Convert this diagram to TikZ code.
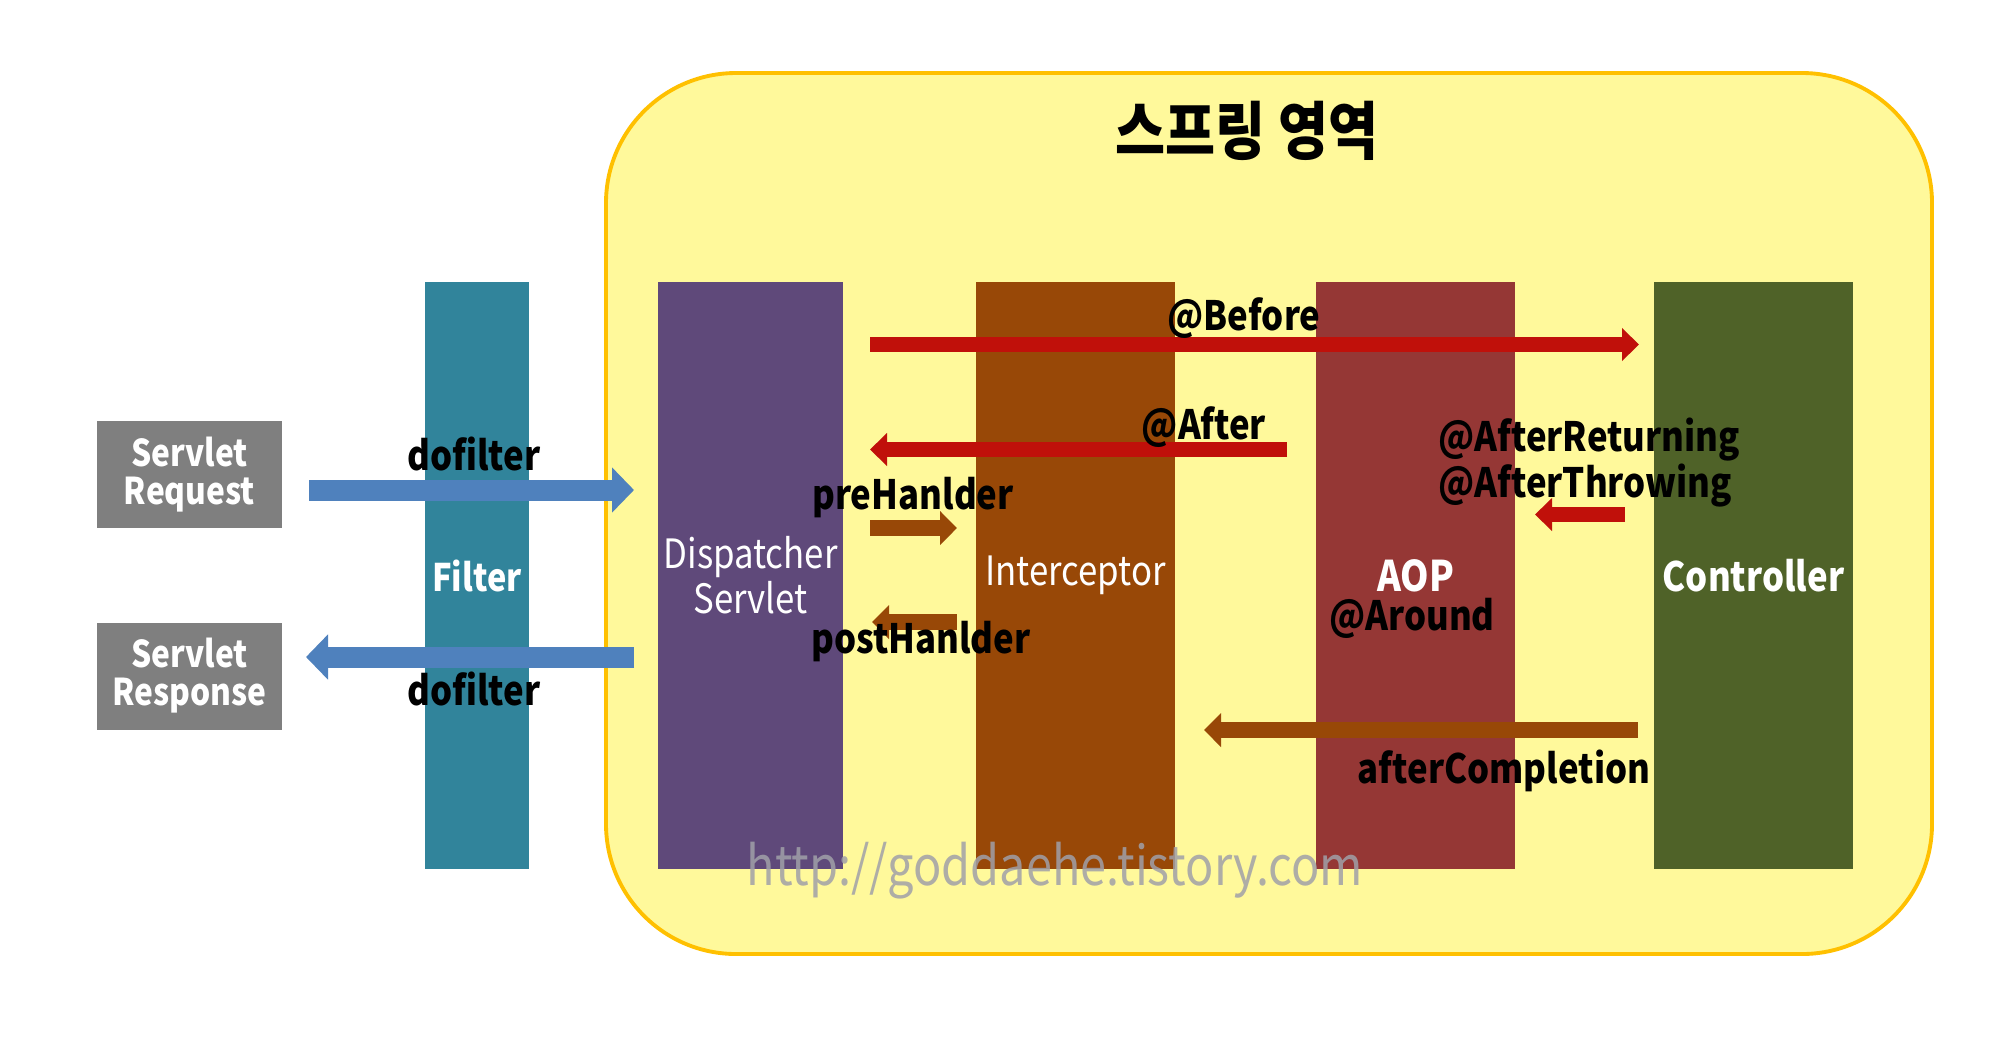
\documentclass[tikz,border=0pt]{standalone}
\usepackage{fontspec}
\setmainfont{Noto Sans CJK KR}[FakeStretch=0.86]
\usetikzlibrary{arrows.meta}
\definecolor{springfill}{HTML}{FFF99B}
\definecolor{springline}{HTML}{FFC000}
\definecolor{servletgray}{HTML}{7F7F7F}
\definecolor{filterteal}{HTML}{31849B}
\definecolor{disppurple}{HTML}{5F497A}
\definecolor{interbrown}{HTML}{984807}
\definecolor{aopred}{HTML}{953735}
\definecolor{ctrlgreen}{HTML}{4F6228}
\definecolor{flowblue}{HTML}{4F81BD}
\definecolor{advicered}{HTML}{C0100A}
\definecolor{wmgray}{HTML}{A0A0A8}
\tikzset{
  bar/.style={minimum width=1.99cm, minimum height=5.87cm, inner sep=0pt, text=white, align=center, font=\fontsize{11.5}{10.8}\selectfont},
  reqbox/.style={fill=servletgray, minimum width=1.85cm, minimum height=1.07cm, inner sep=0pt, align=center, text=white, font=\fontsize{10.5}{10.8}\selectfont\bfseries},
  flowarrow/.style={draw=flowblue, line width=0.21cm, -{Triangle[width=0.44cm,length=0.22cm]}},
  advice/.style={draw=advicered, line width=0.15cm, -{Triangle[width=0.32cm,length=0.17cm]}},
  handler/.style={draw=interbrown, line width=0.16cm, -{Triangle[width=0.33cm,length=0.17cm]}},
  lbl/.style={inner sep=0pt, font=\fontsize{11.5}{11}\selectfont\bfseries}
}

\begin{document}
\begin{tikzpicture}
\useasboundingbox (0,0) rectangle (20,-10.58);
\node[fill=springfill, draw=springline, line width=1.1pt, rounded corners=1.3cm, minimum width=13.26cm, minimum height=8.81cm] (spring) at (12.69,-5.135) {};
\node[font=\fontsize{18}{20}\selectfont\bfseries] (title) at (12.47,-1.31) {스프링 영역};

\node[reqbox] (req) at (1.895,-4.745) {Servlet\\Request};
\node[reqbox] (resp) at (1.895,-6.76) {Servlet\\Response};

\node[bar, fill=filterteal, minimum width=1.04cm, font=\fontsize{10.8}{11}\selectfont\bfseries] (filter) at (4.77,-5.755) {Filter};
\node[bar, fill=disppurple, minimum width=1.85cm] (disp) at (7.505,-5.755) {Dispatcher\\Servlet};
\node[bar, fill=interbrown] (inter) at (10.755,-5.755) {Interceptor};
\node[bar, fill=aopred, font=\fontsize{12}{11}\selectfont\bfseries] (aop) at (14.155,-5.755) {AOP};
\node[bar, fill=ctrlgreen, font=\fontsize{11.5}{11}\selectfont\bfseries] (ctrl) at (17.535,-5.755) {Controller};

% arrow ends
\coordinate (req-out) at (3.09,-4.90);
\coordinate (req-in) at (6.34,-4.90);
\coordinate (resp-out) at (6.34,-6.57);
\coordinate (resp-in) at (3.06,-6.57);
\coordinate (before-out) at (8.70,-3.445);
\coordinate (before-in) at (16.39,-3.445);
\coordinate (after-out) at (12.87,-4.495);
\coordinate (after-in) at (8.70,-4.495);
\coordinate (ret-out) at (16.25,-5.145);
\coordinate (ret-in) at (15.35,-5.145);
\coordinate (pre-out) at (8.70,-5.28);
\coordinate (pre-in) at (9.57,-5.28);
\coordinate (post-out) at (9.57,-6.22);
\coordinate (post-in) at (8.72,-6.22);
\coordinate (done-out) at (16.38,-7.30);
\coordinate (done-in) at (12.04,-7.30);

\draw[flowarrow] (req-out) -- (req-in);
\draw[flowarrow] (resp-out) -- (resp-in);
\draw[advice] (before-out) -- (before-in);
\draw[advice] (after-out) -- (after-in);
\draw[advice] (ret-out) -- (ret-in);
\draw[handler] (pre-out) -- (pre-in);
\draw[handler] (post-out) -- (post-in);
\draw[handler] (done-out) -- (done-in);

\node[lbl] (dofilter-in) at (4.74,-4.54) {dofilter};
\node[lbl] (dofilter-out) at (4.74,-6.89) {dofilter};
\node[lbl] (before) at (12.44,-3.18) {@Before};
\node[lbl] (after) at (12.04,-4.27) {@After};
\node[lbl, anchor=west, align=left] (ret) at (14.38,-4.625) {@AfterReturning\\@AfterThrowing};
\node[lbl] (pre) at (9.13,-4.98) {preHanlder};
\node[lbl] (post) at (9.21,-6.42) {postHanlder};
\node[lbl] (around) at (14.12,-6.18) {@Around};
\node[lbl] (done) at (15.04,-7.71) {afterCompletion};

\node[font=\fontsize{15.5}{16}\selectfont, text=wmgray, opacity=0.85] (wm) at (10.55,-8.71) {http://goddaehe.tistory.com};
\end{tikzpicture}
\end{document}
